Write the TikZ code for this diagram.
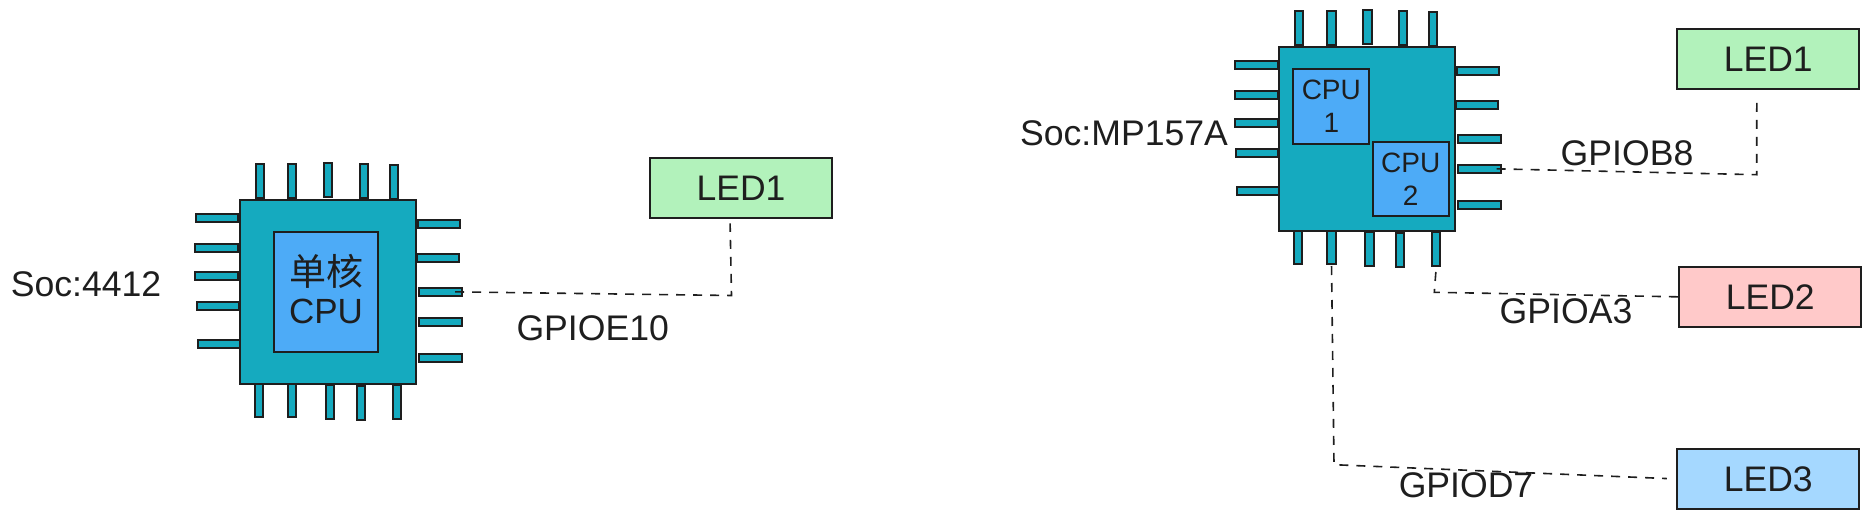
\documentclass[tikz,border=0pt]{standalone}
\usepackage{fontspec}
\setmainfont{Liberation Sans}
\newfontfamily\cjkfont{Noto Sans CJK SC}
\definecolor{inkc}{HTML}{1E1E1E}
\definecolor{chipc}{HTML}{15AABF}
\definecolor{corec}{HTML}{4DABF7}
\definecolor{greenc}{HTML}{B2F2BB}
\definecolor{redc}{HTML}{FFC9C9}
\definecolor{bluec}{HTML}{A5D8FF}
\tikzset{
  box/.style={draw=inkc,line width=1.7pt,inner sep=0pt,outer sep=0pt,text=inkc,align=center},
  chipbody/.style={box,fill=chipc},
  chippin/.style={box,fill=chipc},
  corebox/.style={box,fill=corec},
  ledtext/.style={font=\fontsize{35.5}{40}\selectfont},
  bigtext/.style={font=\fontsize{35}{41}\selectfont},
  bigcjk/.style={font=\fontsize{37}{41}\selectfont},
  smalltext/.style={font=\fontsize{28}{33}\selectfont},
  lbl/.style={inner sep=0pt,text=inkc,font=\fontsize{35.6}{40}\selectfont},
  conn/.style={draw=inkc,line width=1.6pt,dash pattern=on 9pt off 8pt}
}
% \bx{name}{x1}{y1}{x2}{y2}{style}{text}
\newcommand{\bx}[7]{%
  \pgfmathsetmacro{\bxw}{#4-#2}\pgfmathsetmacro{\bxh}{#5-#3}%
  \pgfmathsetmacro{\bxx}{(#2+#4)/2}\pgfmathsetmacro{\bxy}{(#3+#5)/2}%
  \node[#6,minimum width=\bxw pt,minimum height=\bxh pt] (#1) at (\bxx,\bxy) {#7};}
\begin{document}
\begin{tikzpicture}[x=1pt,y=-1pt]
\useasboundingbox (0,0) rectangle (1871,519);
% left chip pins
\bx{at1}{255.7}{163.7}{264}{198.3}{chippin}{}
\bx{at2}{287.7}{163.7}{296}{198.3}{chippin}{}
\bx{at3}{323.7}{162.7}{332}{197.3}{chippin}{}
\bx{at4}{359.7}{163.7}{368}{198.3}{chippin}{}
\bx{at5}{389.7}{165}{398.3}{199.3}{chippin}{}
\bx{al1}{195.7}{213.7}{238.3}{222.3}{chippin}{}
\bx{al2}{195.3}{244}{238.3}{252.3}{chippin}{}
\bx{al3}{195.3}{271.7}{238.3}{280}{chippin}{}
\bx{al4}{196.7}{302}{239.3}{310.3}{chippin}{}
\bx{al5}{197.7}{340}{239.7}{348.3}{chippin}{}
\bx{ar1}{417.7}{220}{460.3}{228.3}{chippin}{}
\bx{ar2}{416.7}{254}{459.3}{262.3}{chippin}{}
\bx{ar3}{418.7}{287.7}{461.7}{296}{chippin}{}
\bx{ar4}{418.7}{317.7}{461.7}{326}{chippin}{}
\bx{ar5}{418.7}{354}{461.7}{362.3}{chippin}{}
\bx{ab1}{254.7}{383}{263.3}{417.3}{chippin}{}
\bx{ab2}{287.7}{382.7}{296.3}{417.3}{chippin}{}
\bx{ab3}{325.7}{385}{334.3}{419.3}{chippin}{}
\bx{ab4}{356.7}{386}{365}{420.3}{chippin}{}
\bx{ab5}{392.7}{385}{401}{419.3}{chippin}{}
\bx{chipa}{240}{200}{416}{384}{chipbody}{}
\bx{corea}{274}{232}{378}{352}{corebox}{}
\node[bigcjk,text=inkc,inner sep=0pt] (coretexta) at (326,271.7) {\cjkfont 单核};
\node[bigtext,text=inkc,inner sep=0pt] (coretextb) at (326,311.7) {CPU};
% right chip pins
\bx{bt1}{1295.3}{11}{1303.3}{45.3}{chippin}{}
\bx{bt2}{1327.3}{11}{1335.7}{45.3}{chippin}{}
\bx{bt3}{1363.3}{9.7}{1371.7}{44}{chippin}{}
\bx{bt4}{1399.3}{11}{1407.3}{45.3}{chippin}{}
\bx{bt5}{1429.3}{11.7}{1437.3}{46}{chippin}{}
\bx{bl1}{1235.3}{60.7}{1277.7}{69}{chippin}{}
\bx{bl2}{1235.3}{90.7}{1277.7}{99}{chippin}{}
\bx{bl3}{1235.3}{118.7}{1277.7}{127}{chippin}{}
\bx{bl4}{1236.3}{149}{1278.3}{157.3}{chippin}{}
\bx{bl5}{1237.3}{186.7}{1279.7}{195}{chippin}{}
\bx{br1}{1457.3}{67}{1499.3}{75.3}{chippin}{}
\bx{br2}{1456.3}{100.7}{1498.3}{109}{chippin}{}
\bx{br3}{1458.3}{134.7}{1500.7}{143}{chippin}{}
\bx{br4}{1458.3}{164.7}{1500.7}{173}{chippin}{}
\bx{br5}{1458.3}{200.7}{1500.7}{209}{chippin}{}
\bx{bb1}{1294.3}{230}{1302.3}{264}{chippin}{}
\bx{bb2}{1327.3}{230}{1335.7}{264}{chippin}{}
\bx{bb3}{1365.3}{232}{1373.7}{266}{chippin}{}
\bx{bb4}{1396.3}{233}{1404.3}{267.3}{chippin}{}
\bx{bb5}{1432.3}{232}{1440.3}{266}{chippin}{}
\bx{chipb}{1279}{47}{1455.3}{230.7}{chipbody}{}
\bx{cpua}{1293.3}{68.7}{1369.3}{144}{corebox,smalltext}{CPU\\[0pt]1}
\bx{cpub}{1372.7}{141.7}{1448.7}{216.3}{corebox,smalltext}{CPU\\[0pt]2}
% LEDs
\bx{leda}{650}{158}{832}{218.3}{box,fill=greenc,ledtext}{LED1}
\bx{ledb}{1677.3}{28.7}{1859.3}{89}{box,fill=greenc,ledtext}{LED1}
\bx{ledc}{1679.3}{266.7}{1861.3}{327}{box,fill=redc,ledtext}{LED2}
\bx{ledd}{1677.3}{449}{1859.3}{509}{box,fill=bluec,ledtext}{LED3}
% corners
\coordinate (ca) at (731.5,295.5);
\coordinate (cb) at (1756.7,174.7);
\coordinate (cc) at (1434.3,292.3);
\coordinate (cd) at (1334,464.7);
% connectors
\draw[conn,shorten >=5pt] ([xshift=-6.5pt]ar3.east) -- (ca) -- ([xshift=-11pt]leda.south);
\draw[conn,shorten >=9pt] ([xshift=-4pt]br4.east) -- (cb) -- ([xshift=-11.5pt]ledb.south);
\draw[conn,shorten <=6pt] (bb5.south) -- (cc) -- (ledc.west);
\draw[conn,shorten <=2pt,shorten >=10.5pt] (bb2.south) -- (cd) -- (ledd.west);
% labels
\node[lbl] (soca) at (86,284) {Soc:4412};
\node[lbl] (socb) at (1124,133) {Soc:MP157A};
\node[lbl] (ga) at (592.7,328) {GPIOE10};
\node[lbl] (gb) at (1627,153) {GPIOB8};
\node[lbl] (gc) at (1566,311) {GPIOA3};
\node[lbl] (gd) at (1466,485.5) {GPIOD7};
\end{tikzpicture}
\end{document}
